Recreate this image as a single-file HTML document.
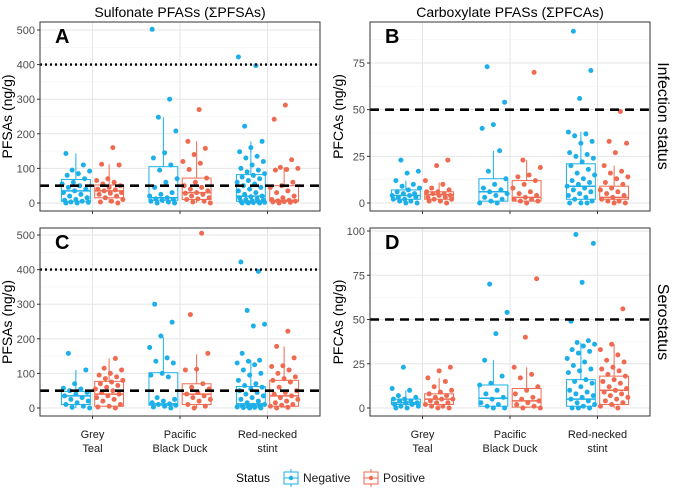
<!DOCTYPE html>
<html><head><meta charset="utf-8"><style>
body{margin:0;background:#fff;}
svg{display:block;font-family:"Liberation Sans",sans-serif;}
</style></head><body>
<svg id="chart" width="677" height="489" viewBox="0 0 677 489"></svg>
<script>
const categories = ["Grey Teal","Pacific Black Duck","Red-necked stint"];
const statuses = ["Negative","Positive"];
// box stats: [lower whisker, q1, median, q3, upper whisker]
const boxA = [[0,5,35,68,143],[0,15,35,52,112],[0,8,15,105,248],[0,10,30,72,178],[0,5,20,82,178],[0,5,8,50,103]];
const ptsA = [
 [143,110,95,92,85,80,70,60,55,50,45,40,35,30,25,20,15,10,8,5,3,2,0,0],
 [160,112,110,70,65,60,55,50,45,40,38,35,30,28,25,20,15,10,5,3,0],
 [502,300,248,208,145,130,110,95,70,60,45,30,25,20,15,12,10,8,5,3,0,0],
 [270,178,158,140,120,115,97,72,60,50,45,40,35,30,28,25,20,15,12,10,5,3,0],
 [422,397,222,178,160,148,135,130,120,110,100,95,90,85,80,75,70,65,60,55,50,45,40,35,30,25,20,18,15,12,10,8,6,5,4,3,2,1,0,0,0],
 [283,242,125,103,100,97,95,60,50,45,35,30,20,15,10,8,6,5,4,3,2,0]];
const boxB = [[0,2,4,7,12],[0,2,4.5,6,11],[0,1,6,13,28],[0,1,3,12,23],[0,2,9,21,38],[0,2,3,9,20]];
const ptsB = [
 [23,17,16,12,10,9,8,7,6,5,5,4,4,3,3,2,2,1,1,0,0],
 [23,20,12,10,8,7,6,6,5,5,4,4,3,3,2,2,1,1,0],
 [73,54,42,40,28,17,13,10,8,7,6,5,4,3,2,1,0,0],
 [70,23,19,15,14,12,10,8,6,5,4,3,2,2,1,1,0],
 [92,71,56,38,37,36,33,32,27,26,25,24,22,20,18,16,15,13,12,11,10,9,8,7,6,5,4,3,2,1,0,0,0],
 [49,33,32,27,20,17,16,14,13,11,10,8,7,6,5,4,3,2,1,1,0,0]];
const boxC = [[0,10,35,48,110],[0,5,40,77,143],[0,8,12,102,205],[0,10,40,70,155],[0,8,12,62,138],[0,5,35,80,178]];
const ptsC = [
 [158,110,70,57,55,50,45,40,35,30,25,20,15,10,5,2,0],
 [143,115,110,100,95,90,85,80,75,70,65,60,55,50,45,40,35,30,25,20,10,5,3,0],
 [300,248,208,175,145,135,130,100,95,90,30,25,20,15,12,10,8,5,3,0],
 [505,270,158,112,110,70,60,55,45,40,35,30,25,20,10,5,0],
 [422,395,282,242,237,158,138,135,130,125,110,100,95,80,70,65,60,55,50,45,40,35,30,25,20,15,10,8,6,5,4,3,2,1,0,0],
 [222,178,145,122,120,110,100,90,85,80,75,60,50,45,40,35,30,25,20,15,10,8,5,2,0]];
const boxD = [[0,2,3,5,10],[0,2,5,8,17],[0,1,5.5,13,27],[0,0.5,4,11,23],[0,1,5,16,37],[0,2,10,18,36]];
const ptsD = [
 [23,11,10,7,6,5,5,4,4,3,3,2,2,1,1,0,0],
 [23,21,17,15,12,10,9,8,7,6,5,5,4,3,3,2,1,1,0,0],
 [70,54,42,27,18,14,13,10,8,6,5,3,2,1,0,0],
 [73,40,23,19,17,12,10,8,6,5,4,3,2,1,0,0],
 [98,93,71,49,38,37,36,35,33,32,31,28,26,24,22,21,20,16,15,14,12,10,9,8,7,6,5,4,3,2,1,0,0,0],
 [56,36,33,30,27,26,23,22,21,19,18,16,15,14,12,11,10,9,8,7,6,5,4,3,2,1,0]];
const ticksPFSA = [0,100,200,300,400,500];
const ticksB = [0,25,50,75];
const ticksD = [0,25,50,75,100];

const NS="http://www.w3.org/2000/svg";
const svg=document.getElementById('chart');
const COL=["#1CAFE8","#EE6A50"];
function el(tag,attrs,parent,txt){const e=document.createElementNS(NS,tag);for(const k in attrs)e.setAttribute(k,attrs[k]);if(txt!==undefined)e.textContent=txt;(parent||svg).appendChild(e);return e;}

function panel(cfg){
  const g=el('g',{});
  
  
  const L=cfg.x0,R=cfg.x1,T=cfg.y0,B=cfg.y1;
  const y=v=>cfg.zeroY-(v/cfg.max)*(cfg.zeroY-cfg.maxY);
  const w=R-L;
  const x=i=>L+w*((i+1)-0.4)/3.2;
  for(let i=0;i<cfg.ticks.length;i++){const t=cfg.ticks[i]+(cfg.ticks[1]-cfg.ticks[0])/2;const yy=y(t);if(yy>T)el('line',{x1:L,x2:R,y1:yy,y2:yy,stroke:'#f3f3f3','stroke-width':0.6},g);}
  cfg.ticks.forEach(t=>{const yy=y(t);
    el('line',{x1:L,x2:R,y1:yy,y2:yy,stroke:'#e6e6e6','stroke-width':1},g);
    el('line',{x1:L-3,x2:L,y1:yy,y2:yy,stroke:'#333','stroke-width':1},g);
    const tl=el('text',{x:L-5,y:yy+4,'text-anchor':'end','font-size':11,fill:'#4d4d4d'},g,String(t));
    
    
  });
  categories.forEach((c,i)=>{el('line',{x1:x(i),x2:x(i),y1:T,y2:B,stroke:'#e6e6e6','stroke-width':1},g);
    el('line',{x1:x(i),x2:x(i),y1:B,y2:B+3,stroke:'#333'},g);});
  const unit=w/3.2, bw=unit*0.33, dodge=unit*0.19;
  for(let i=0;i<3;i++)for(let s=0;s<2;s++){
    const idx=i*2+s, b=cfg.box[idx], cx=x(i)+(s?dodge:-dodge), c=COL[s];
    const bg=el('g',{},g);
    
    
    el('line',{x1:cx,x2:cx,y1:y(b[0]),y2:y(b[1]),stroke:c},bg);
    el('line',{x1:cx,x2:cx,y1:y(b[3]),y2:y(b[4]),stroke:c},bg);
    el('rect',{x:cx-bw/2,y:y(b[3]),width:bw,height:Math.max(0.5,y(b[1])-y(b[3])),fill:'#fff',stroke:c,'stroke-width':1},bg);
    el('line',{x1:cx-bw/2,x2:cx+bw/2,y1:y(b[2]),y2:y(b[2]),stroke:c,'stroke-width':1.5},bg);
    cfg.pts[idx].forEach((v,k)=>{
      const jit=(((k*37+idx*11+cfg.seed)%23)/22-0.5)*bw*0.95;
      const p=el('circle',{cx:cx+jit,cy:y(v),r:2.5,fill:c},bg);
      
      
    });
  }
  el('line',{x1:L,x2:R,y1:y(50),y2:y(50),stroke:'#000','stroke-width':2.6,'stroke-dasharray':'9 6'},g);
  if(cfg.dot) el('line',{x1:L,x2:R,y1:y(400),y2:y(400),stroke:'#000','stroke-width':2.4,'stroke-dasharray':'2 3'},g);
  el('rect',{x:L,y:T,width:w,height:B-T,fill:'none',stroke:'#333','stroke-width':1},g);
  const lt=el('text',{x:L+15,y:T+21,'font-size':20,'font-weight':'bold',fill:'#000'},g,cfg.letter);
  
  
  const at=el('text',{transform:`translate(${cfg.titleX},${(T+B)/2}) rotate(-90)`,'text-anchor':'middle','font-size':14,fill:'#000'},g,cfg.ytitle);
  
  
  if(cfg.xlabels){categories.forEach((c,i)=>{
    const parts=c==="Grey Teal"?["Grey","Teal"]:c==="Pacific Black Duck"?["Pacific","Black Duck"]:["Red-necked","stint"];
    const t=el('text',{x:x(i),y:B+22,'text-anchor':'middle','font-size':11,fill:'#1a1a1a'},g);
    
    
    el('tspan',{x:x(i),dy:0},t,parts[0]);el('tspan',{x:x(i),dy:14},t,parts[1]);
  });}
}
panel({letter:'A',x0:40,x1:320,y0:22,y1:211,zeroY:203,maxY:30,max:500,ticks:ticksPFSA,box:boxA,pts:ptsA,dot:true,titleX:12,ytitle:'PFSAs (ng/g)',seed:3});
panel({letter:'B',x0:370,x1:650,y0:22,y1:211,zeroY:203,maxY:63,max:75,ticks:ticksB,box:boxB,pts:ptsB,dot:false,titleX:343,ytitle:'PFCAs (ng/g)',seed:7});
panel({letter:'C',x0:40,x1:320,y0:228,y1:416,zeroY:408,maxY:235,max:500,ticks:ticksPFSA,box:boxC,pts:ptsC,dot:true,titleX:12,ytitle:'PFSAs (ng/g)',xlabels:true,seed:5});
panel({letter:'D',x0:370,x1:650,y0:228,y1:416,zeroY:408,maxY:231,max:100,ticks:ticksD,box:boxD,pts:ptsD,dot:false,titleX:343,ytitle:'PFCAs (ng/g)',xlabels:true,seed:9});
</script>
<script>
const s2=document.getElementById('chart');
function t(x,y,txt,attrs,name){const e=document.createElementNS("http://www.w3.org/2000/svg",'text');e.setAttribute('x',x);e.setAttribute('y',y);for(const k in attrs)e.setAttribute(k,attrs[k]);e.textContent=txt;


s2.appendChild(e);return e;}
t(180,17,'Sulfonate PFASs (ΣPFSAs)',{'text-anchor':'middle','font-size':14},'column-title-sulfonate');
t(510,17,'Carboxylate PFASs (ΣPFCAs)',{'text-anchor':'middle','font-size':14},'column-title-carboxylate');
t(0,0,'Infection status',{'text-anchor':'middle','font-size':16,transform:'translate(658,116) rotate(90)'},'row-strip-infection-status');
t(0,0,'Serostatus',{'text-anchor':'middle','font-size':16,transform:'translate(658,322) rotate(90)'},'row-strip-serostatus');
t(236,482,'Status',{'font-size':12},'legend-title');
const NS2="http://www.w3.org/2000/svg";
[[284,'#1CAFE8','Negative'],[364,'#EE6A50','Positive']].forEach(([x,c,l])=>{
  const g=document.createElementNS(NS2,'g');
  
  
  g.innerHTML=`<line x1="${x+7}" x2="${x+7}" y1="469" y2="487" stroke="${c}"/><rect x="${x}" y="472" width="14" height="12" fill="#fff" stroke="${c}"/><line x1="${x}" x2="${x+14}" y1="478" y2="478" stroke="${c}"/><circle cx="${x+7}" cy="478" r="2.2" fill="${c}"/><text x="${x+19}" y="482" font-size="12" fill="#1a1a1a">${l}</text>`;
  s2.appendChild(g);
});
</script>
</body></html>
